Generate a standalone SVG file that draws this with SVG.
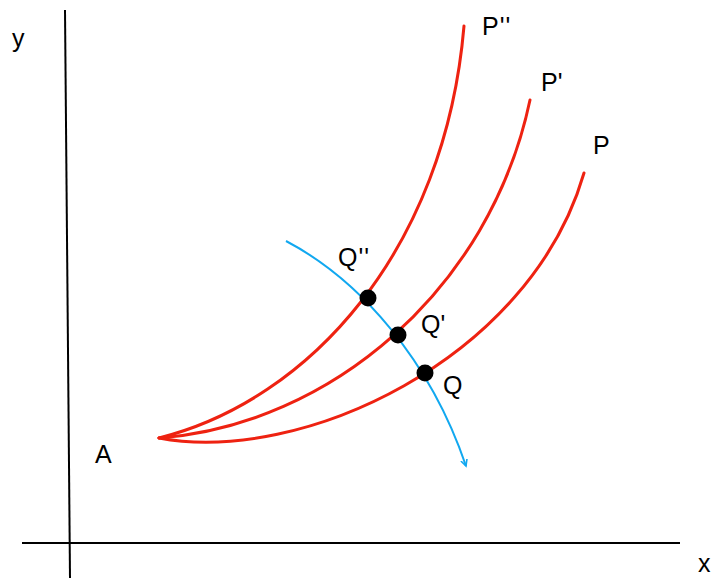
<svg xmlns="http://www.w3.org/2000/svg" width="711" height="579" viewBox="0 0 711 579">
<style>
.ax{stroke:#000;stroke-width:2;fill:none}
.pc{stroke:#ee2211;stroke-width:3;fill:none;stroke-linecap:round}
.bc{stroke:#11a8f0;stroke-width:2;fill:none}
.dot{fill:#000}
text{font-family:"Liberation Sans",Arial,sans-serif;font-size:25px;fill:#000}
</style>
<defs>
<marker id="ah" viewBox="0 0 10 10" refX="8" refY="5" markerWidth="8" markerHeight="8" markerUnits="userSpaceOnUse" orient="auto">
<path d="M0,1 L8,5 L0,9" fill="none" stroke="#11a8f0" stroke-width="2"/>
</marker>
</defs>
<g id="connectors">
<path id="y-axis" class="ax" d="M65,10 L70,578"/>
<path id="x-axis" class="ax" d="M22,543 L680,543"/>
<path id="curve-P2" class="pc" d="M159,438 C310,400 445,250 464,26"/>
<path id="curve-P1" class="pc" d="M159,438 C330,425 490,290 530,100"/>
<path id="curve-P" class="pc" d="M159,438 C300,465 530,360 584,173"/>
<path id="curve-blue" class="bc" d="M286,241 C360,280 430,360 466,466" marker-end="url(#ah)"/>
</g>
<g id="node-Q2"><circle class="dot" cx="368" cy="298" r="8.5"/><text x="338" y="266" letter-spacing="1">Q''</text></g>
<g id="node-Q1"><circle class="dot" cx="398" cy="335" r="8.5"/><text x="421" y="333">Q'</text></g>
<g id="node-Q"><circle class="dot" cx="425" cy="373" r="8.5"/><text x="443" y="394">Q</text></g>
<g id="label-P2"><text x="482" y="35" letter-spacing="1">P''</text></g>
<g id="label-P1"><text x="541" y="91">P'</text></g>
<g id="label-P"><text x="593" y="154">P</text></g>
<g id="label-A"><text x="95" y="463">A</text></g>
<g id="label-y"><text x="12" y="47">y</text></g>
<g id="label-x"><text x="698" y="572">x</text></g>
</svg>
